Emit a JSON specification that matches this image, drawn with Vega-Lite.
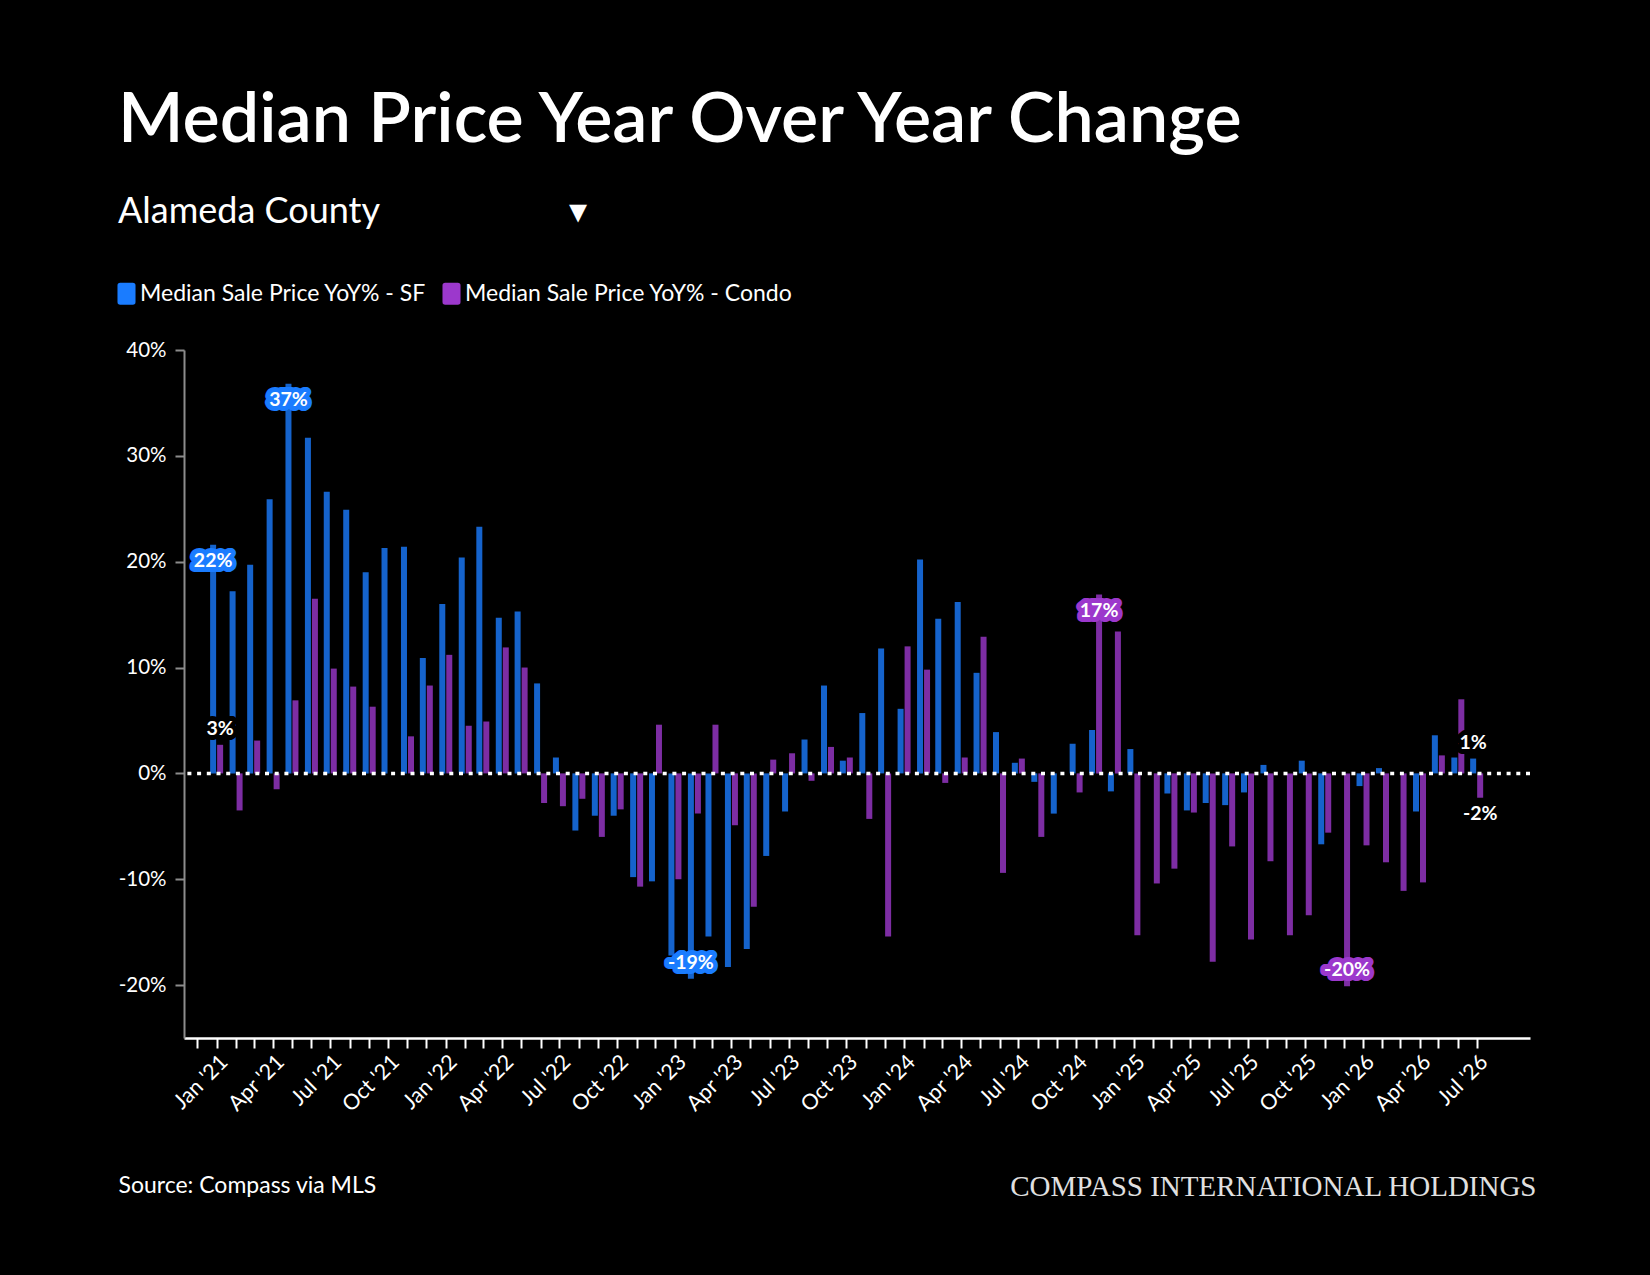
{
  "$schema": "https://vega.github.io/schema/vega-lite/v6.json",
  "width": 1346,
  "height": 688,
  "autosize": "none",
  "padding": {"left": 184, "top": 350, "right": 120, "bottom": 237},
  "background": "#000000",
  "config": {
    "view": {"stroke": null},
    "font": "Lato"
  },
  "title": {
    "text": "Median Price Year Over Year Change",
    "subtitle": "Alameda County\u2003\u2003\u2003\u2003\u2003\u2003\u2003\u25be",
    "anchor": "start",
    "frame": "group",
    "dx": -66,
    "offset": 51,
    "font": "Lato",
    "fontSize": 70,
    "fontWeight": 600,
    "color": "#ffffff",
    "subtitleFont": "Lato",
    "subtitleFontSize": 36,
    "subtitleColor": "#ffffff",
    "subtitlePadding": 38
  },
  "data": {
    "format": {"parse": {"m": "date"}},
    "values": [
      {"m": "2021-01-01", "s": "SF", "v": 21.6},
      {"m": "2021-02-01", "s": "SF", "v": 17.2},
      {"m": "2021-03-01", "s": "SF", "v": 19.7},
      {"m": "2021-04-01", "s": "SF", "v": 25.9},
      {"m": "2021-05-01", "s": "SF", "v": 36.8},
      {"m": "2021-06-01", "s": "SF", "v": 31.7},
      {"m": "2021-07-01", "s": "SF", "v": 26.6},
      {"m": "2021-08-01", "s": "SF", "v": 24.9},
      {"m": "2021-09-01", "s": "SF", "v": 19.0},
      {"m": "2021-10-01", "s": "SF", "v": 21.3},
      {"m": "2021-11-01", "s": "SF", "v": 21.4},
      {"m": "2021-12-01", "s": "SF", "v": 10.9},
      {"m": "2022-01-01", "s": "SF", "v": 16.0},
      {"m": "2022-02-01", "s": "SF", "v": 20.4},
      {"m": "2022-03-01", "s": "SF", "v": 23.3},
      {"m": "2022-04-01", "s": "SF", "v": 14.7},
      {"m": "2022-05-01", "s": "SF", "v": 15.3},
      {"m": "2022-06-01", "s": "SF", "v": 8.5},
      {"m": "2022-07-01", "s": "SF", "v": 1.5},
      {"m": "2022-08-01", "s": "SF", "v": -5.4},
      {"m": "2022-09-01", "s": "SF", "v": -4.0},
      {"m": "2022-10-01", "s": "SF", "v": -4.0},
      {"m": "2022-11-01", "s": "SF", "v": -9.8},
      {"m": "2022-12-01", "s": "SF", "v": -10.2},
      {"m": "2023-01-01", "s": "SF", "v": -17.2},
      {"m": "2023-02-01", "s": "SF", "v": -19.4},
      {"m": "2023-03-01", "s": "SF", "v": -15.4},
      {"m": "2023-04-01", "s": "SF", "v": -18.3},
      {"m": "2023-05-01", "s": "SF", "v": -16.6},
      {"m": "2023-06-01", "s": "SF", "v": -7.8},
      {"m": "2023-07-01", "s": "SF", "v": -3.6},
      {"m": "2023-08-01", "s": "SF", "v": 3.2},
      {"m": "2023-09-01", "s": "SF", "v": 8.3},
      {"m": "2023-10-01", "s": "SF", "v": 1.2},
      {"m": "2023-11-01", "s": "SF", "v": 5.7},
      {"m": "2023-12-01", "s": "SF", "v": 11.8},
      {"m": "2024-01-01", "s": "SF", "v": 6.1},
      {"m": "2024-02-01", "s": "SF", "v": 20.2},
      {"m": "2024-03-01", "s": "SF", "v": 14.6},
      {"m": "2024-04-01", "s": "SF", "v": 16.2},
      {"m": "2024-05-01", "s": "SF", "v": 9.5},
      {"m": "2024-06-01", "s": "SF", "v": 3.9},
      {"m": "2024-07-01", "s": "SF", "v": 1.0},
      {"m": "2024-08-01", "s": "SF", "v": -0.8},
      {"m": "2024-09-01", "s": "SF", "v": -3.8},
      {"m": "2024-10-01", "s": "SF", "v": 2.8},
      {"m": "2024-11-01", "s": "SF", "v": 4.1},
      {"m": "2024-12-01", "s": "SF", "v": -1.7},
      {"m": "2025-01-01", "s": "SF", "v": 2.3},
      {"m": "2025-03-01", "s": "SF", "v": -1.9},
      {"m": "2025-04-01", "s": "SF", "v": -3.5},
      {"m": "2025-05-01", "s": "SF", "v": -2.8},
      {"m": "2025-06-01", "s": "SF", "v": -3.0},
      {"m": "2025-07-01", "s": "SF", "v": -1.8},
      {"m": "2025-08-01", "s": "SF", "v": 0.8},
      {"m": "2025-10-01", "s": "SF", "v": 1.2},
      {"m": "2025-11-01", "s": "SF", "v": -6.7},
      {"m": "2026-01-01", "s": "SF", "v": -1.2},
      {"m": "2026-02-01", "s": "SF", "v": 0.5},
      {"m": "2026-04-01", "s": "SF", "v": -3.6},
      {"m": "2026-05-01", "s": "SF", "v": 3.6},
      {"m": "2026-06-01", "s": "SF", "v": 1.5},
      {"m": "2026-07-01", "s": "SF", "v": 1.4},
      {"m": "2021-01-01", "s": "Condo", "v": 2.7},
      {"m": "2021-02-01", "s": "Condo", "v": -3.5},
      {"m": "2021-03-01", "s": "Condo", "v": 3.1},
      {"m": "2021-04-01", "s": "Condo", "v": -1.5},
      {"m": "2021-05-01", "s": "Condo", "v": 6.9},
      {"m": "2021-06-01", "s": "Condo", "v": 16.5},
      {"m": "2021-07-01", "s": "Condo", "v": 9.9},
      {"m": "2021-08-01", "s": "Condo", "v": 8.2},
      {"m": "2021-09-01", "s": "Condo", "v": 6.3},
      {"m": "2021-11-01", "s": "Condo", "v": 3.5},
      {"m": "2021-12-01", "s": "Condo", "v": 8.3},
      {"m": "2022-01-01", "s": "Condo", "v": 11.2},
      {"m": "2022-02-01", "s": "Condo", "v": 4.5},
      {"m": "2022-03-01", "s": "Condo", "v": 4.9},
      {"m": "2022-04-01", "s": "Condo", "v": 11.9},
      {"m": "2022-05-01", "s": "Condo", "v": 10.0},
      {"m": "2022-06-01", "s": "Condo", "v": -2.8},
      {"m": "2022-07-01", "s": "Condo", "v": -3.1},
      {"m": "2022-08-01", "s": "Condo", "v": -2.4},
      {"m": "2022-09-01", "s": "Condo", "v": -6.0},
      {"m": "2022-10-01", "s": "Condo", "v": -3.4},
      {"m": "2022-11-01", "s": "Condo", "v": -10.7},
      {"m": "2022-12-01", "s": "Condo", "v": 4.6},
      {"m": "2023-01-01", "s": "Condo", "v": -10.0},
      {"m": "2023-02-01", "s": "Condo", "v": -3.8},
      {"m": "2023-03-01", "s": "Condo", "v": 4.6},
      {"m": "2023-04-01", "s": "Condo", "v": -4.9},
      {"m": "2023-05-01", "s": "Condo", "v": -12.6},
      {"m": "2023-06-01", "s": "Condo", "v": 1.3},
      {"m": "2023-07-01", "s": "Condo", "v": 1.9},
      {"m": "2023-08-01", "s": "Condo", "v": -0.7},
      {"m": "2023-09-01", "s": "Condo", "v": 2.5},
      {"m": "2023-10-01", "s": "Condo", "v": 1.5},
      {"m": "2023-11-01", "s": "Condo", "v": -4.3},
      {"m": "2023-12-01", "s": "Condo", "v": -15.4},
      {"m": "2024-01-01", "s": "Condo", "v": 12.0},
      {"m": "2024-02-01", "s": "Condo", "v": 9.8},
      {"m": "2024-03-01", "s": "Condo", "v": -0.9},
      {"m": "2024-04-01", "s": "Condo", "v": 1.5},
      {"m": "2024-05-01", "s": "Condo", "v": 12.9},
      {"m": "2024-06-01", "s": "Condo", "v": -9.4},
      {"m": "2024-07-01", "s": "Condo", "v": 1.4},
      {"m": "2024-08-01", "s": "Condo", "v": -6.0},
      {"m": "2024-10-01", "s": "Condo", "v": -1.8},
      {"m": "2024-11-01", "s": "Condo", "v": 16.9},
      {"m": "2024-12-01", "s": "Condo", "v": 13.4},
      {"m": "2025-01-01", "s": "Condo", "v": -15.3},
      {"m": "2025-02-01", "s": "Condo", "v": -10.4},
      {"m": "2025-03-01", "s": "Condo", "v": -9.0},
      {"m": "2025-04-01", "s": "Condo", "v": -3.7},
      {"m": "2025-05-01", "s": "Condo", "v": -17.8},
      {"m": "2025-06-01", "s": "Condo", "v": -6.9},
      {"m": "2025-07-01", "s": "Condo", "v": -15.7},
      {"m": "2025-08-01", "s": "Condo", "v": -8.3},
      {"m": "2025-09-01", "s": "Condo", "v": -15.3},
      {"m": "2025-10-01", "s": "Condo", "v": -13.4},
      {"m": "2025-11-01", "s": "Condo", "v": -5.6},
      {"m": "2025-12-01", "s": "Condo", "v": -20.1},
      {"m": "2026-01-01", "s": "Condo", "v": -6.8},
      {"m": "2026-02-01", "s": "Condo", "v": -8.4},
      {"m": "2026-03-01", "s": "Condo", "v": -11.1},
      {"m": "2026-04-01", "s": "Condo", "v": -10.3},
      {"m": "2026-05-01", "s": "Condo", "v": 1.7},
      {"m": "2026-06-01", "s": "Condo", "v": 7.0},
      {"m": "2026-07-01", "s": "Condo", "v": -2.3}
    ]
  },
  "encoding": {
    "x": {
      "field": "m",
      "type": "temporal",
      "scale": {
        "type": "utc",
        "nice": false,
        "domain": [
          {"year": 2020, "month": 11, "date": 18, "utc": true},
          {"year": 2026, "month": 9, "date": 16, "utc": true}
        ]
      },
      "axis": {
        "tickCount": {"interval": "month", "step": 1},
        "labelExpr": "utcmonth(datum.value) % 3 == 0 ? utcFormat(datum.value, \"%b '%y\") : ''",
        "labelOverlap": false,
        "labelAngle": -45,
        "labelAlign": "right",
        "labelBaseline": "top",
        "labelPadding": 3,
        "labelFont": "Lato",
        "labelFontSize": 21.5,
        "labelColor": "#ffffff",
        "tickSize": 10,
        "tickWidth": 2,
        "tickColor": "#ffffff",
        "tickOpacity": {"condition": {"test": "datum.value > utc(2026, 6, 5)", "value": 0}, "value": 1},
        "domainColor": "#ffffff",
        "domainWidth": 2.5,
        "grid": false,
        "title": "Source: Compass via MLS",
        "titleX": -66,
        "titleY": 147,
        "titleAngle": 0,
        "titleAlign": "left",
        "titleBaseline": "middle",
        "titleFont": "Lato",
        "titleFontSize": 23,
        "titleFontWeight": "normal",
        "titleColor": "#ffffff"
      }
    },
    "y": {
      "field": "v",
      "type": "quantitative",
      "scale": {"domain": [-25, 40], "nice": false, "zero": false},
      "axis": {
        "values": [-20, -10, 0, 10, 20, 30, 40],
        "labelExpr": "datum.value + '%'",
        "labelFont": "Lato",
        "labelFontSize": 20.5,
        "labelColor": "#ffffff",
        "labelPadding": 9,
        "tickSize": 9,
        "tickWidth": 2,
        "tickColor": "#8c8c8c",
        "domainColor": "#8c8c8c",
        "domainWidth": 2,
        "grid": false,
        "title": "COMPASS INTERNATIONAL HOLDINGS",
        "titleAngle": 0,
        "titleX": 1352,
        "titleY": 836,
        "titleAlign": "right",
        "titleBaseline": "middle",
        "titleFont": "Liberation Serif",
        "titleFontSize": 29,
        "titleFontWeight": "normal",
        "titleColor": "#e0e0e0"
      }
    }
  },
  "layer": [
    {
      "transform": [{"filter": "datum.s == 'SF'"}],
      "mark": {"type": "bar", "width": 6, "xOffset": -3.5, "fillOpacity": 0.8},
      "encoding": {
        "color": {
          "field": "s",
          "type": "nominal",
          "scale": {"domain": ["SF", "Condo"], "range": ["#1a7cff", "#9c38cc"]},
          "legend": {
            "orient": "none",
            "legendX": -69,
            "legendY": -68,
            "direction": "horizontal",
            "title": null,
            "labelExpr": "'Median Sale Price YoY% - ' + datum.label",
            "labelFont": "Lato",
            "labelFontSize": 23,
            "labelColor": "#ffffff",
            "labelLimit": 400,
            "labelOffset": 2,
            "columnPadding": 13,
            "symbolType": "M-0.57,-1H0.57Q0.82,-1 0.82,-0.75V0.75Q0.82,1 0.57,1H-0.57Q-0.82,1 -0.82,0.75V-0.75Q-0.82,-1 -0.57,-1Z",
            "symbolSize": 484,
            "symbolStrokeWidth": 0,
            "symbolOpacity": 1,
            "symbolFillOpacity": 1
          }
        }
      }
    },
    {
      "transform": [{"filter": "datum.s == 'Condo'"}],
      "mark": {"type": "bar", "width": 6, "xOffset": 3.5, "fillOpacity": 0.8},
      "encoding": {
        "color": {"field": "s", "type": "nominal"}
      }
    },
    {
      "data": {"values": [{"base": 0}]},
      "mark": {"type": "rule", "color": "#ffffff", "strokeWidth": 3.5, "strokeDash": [4, 5.7]},
      "encoding": {
        "x": null,
        "y": {"field": "base", "type": "quantitative"}
      }
    },
    {
      "transform": [
        {"window": [{"op": "row_number", "as": "rn"}], "sort": [{"field": "m", "order": "ascending"}], "groupby": ["s"]},
        {"joinaggregate": [
          {"op": "count", "as": "n"},
          {"op": "max", "field": "v", "as": "vmax"},
          {"op": "min", "field": "v", "as": "vmin"}
        ], "groupby": ["s"]},
        {"filter": "datum.v == datum.vmax || datum.v == datum.vmin || datum.rn == 1 || datum.rn == datum.n"},
        {"calculate": "round(datum.v) + '%'", "as": "lbl"}
      ],
      "layer": [
        {
          "mark": {
            "type": "text",
            "font": "Lato",
            "fontSize": 19.5,
            "fontWeight": "bold",
            "baseline": "middle",
            "strokeWidth": 10,
            "strokeJoin": "round",
            "xOffset": {"expr": "datum.s == 'SF' ? -3.5 : 3.5"},
            "dy": {"expr": "(datum.v >= 5 || (datum.v < 0 && datum.v > -5)) ? 16 : -16"},
            "stroke": {"expr": "abs(datum.v) < 5 ? '#000000' : (datum.s == 'SF' ? '#1a7cff' : '#9c38cc')"},
            "fill": {"expr": "abs(datum.v) < 5 ? '#000000' : (datum.s == 'SF' ? '#1a7cff' : '#9c38cc')"}
          },
          "encoding": {"text": {"field": "lbl"}}
        },
        {
          "mark": {
            "type": "text",
            "font": "Lato",
            "fontSize": 19.5,
            "fontWeight": "bold",
            "baseline": "middle",
            "color": "#ffffff",
            "xOffset": {"expr": "datum.s == 'SF' ? -3.5 : 3.5"},
            "dy": {"expr": "(datum.v >= 5 || (datum.v < 0 && datum.v > -5)) ? 16 : -16"}
          },
          "encoding": {"text": {"field": "lbl"}}
        }
      ]
    }
  ]
}
